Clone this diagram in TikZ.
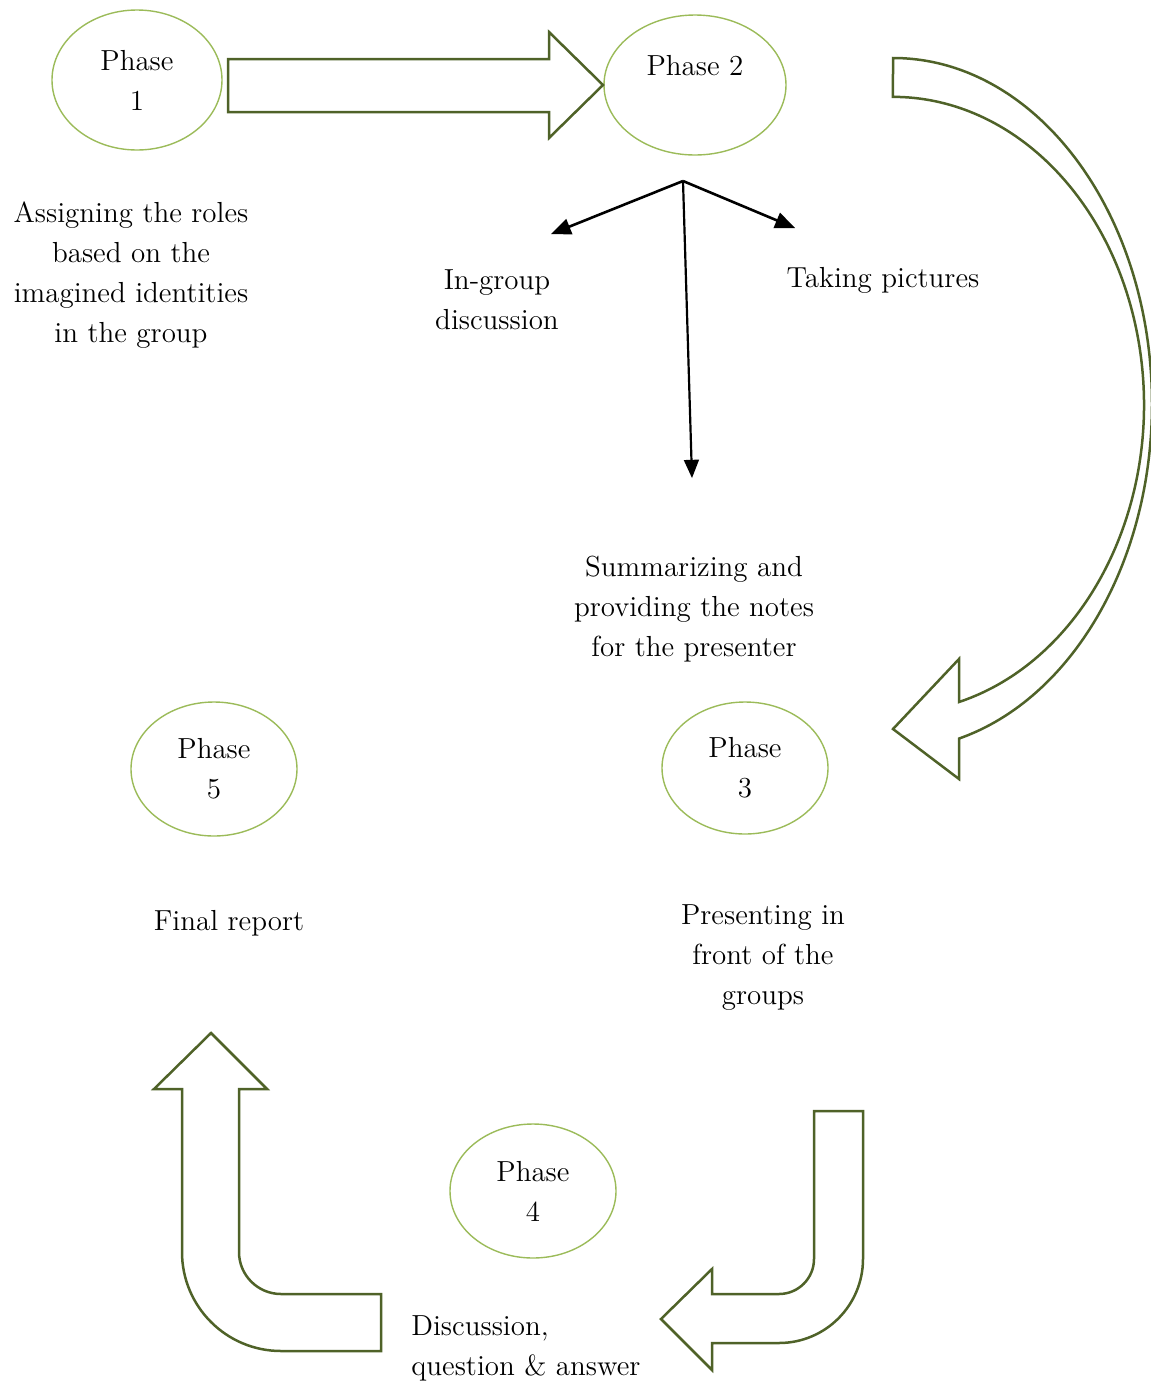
\documentclass[tikz,border=0pt]{standalone}
\usepackage{tikz}
\usepackage{color}
\usetikzlibrary{shapes.geometric, arrows}
\definecolor{phasegreen}{HTML}{9BBB59}
\definecolor{arrowolive}{HTML}{4F6228}
\tikzstyle{phase} = [ellipse, draw=phasegreen, line width=0.7pt, align=center, inner sep=0pt]
\tikzstyle{note} = [align=center, inner sep=0pt]
\tikzstyle{block} = [draw=arrowolive, line width=1.25pt, line join=miter, fill=white]
\tikzstyle{arrow} = [line width=1.3pt, -triangle 45]

\begin{document}
\begin{tikzpicture}[x=0.5pt, y=-0.5pt, font=\fontsize{14.5}{20}\selectfont]
          \useasboundingbox (0,0) rectangle (1151,1383);
          % phases
          \node (p1) [phase, minimum width=85pt, minimum height=70pt] at (137,80) {Phase\\1};
          \node (p2) [phase, minimum width=91pt, minimum height=70pt] at (695,85) {Phase 2\\\mbox{}};
          \node (p3) [phase, minimum width=83pt, minimum height=66pt] at (745,768) {Phase\\3};
          \node (p5) [phase, minimum width=83pt, minimum height=67pt] at (214,769) {Phase\\5};
          \node (p4) [phase, minimum width=83pt, minimum height=67pt] at (533,1191) {Phase\\4};
          % texts
          \node (roles) [note] at (131,275) {Assigning the roles\\based on the\\imagined identities\\in the group};
          \node (ingroup) [note] at (497,300) {In-group\\discussion};
          \node (pictures) [note] at (883,280) {Taking pictures};
          \node (summ) [note] at (694,609) {Summarizing and\\providing the notes\\for the presenter};
          \node (final) [note] at (229,923) {Final report};
          \node (present) [note] at (763,958) {Presenting in\\front of the\\groups};
          \node (discuss) [note, align=left, anchor=west] at (411,1348) {Discussion,\\question \& answer};
          % black arrows
          \coordinate (fork) at (683,181);
          \coordinate (toin) at (551,234);
          \coordinate (topic) at (795,228);
          \coordinate (tosum) at (692,478);
          \draw [arrow] (fork) -- (toin);
          \draw [arrow] (fork) -- (topic);
          \draw [arrow, line width=1.1pt] (fork) -- (tosum);
          % block arrows
          \draw [block] (228,59) -- (549,59) -- (549,32) -- (603,85) -- (549,138)
                -- (549,112) -- (228,112) -- cycle;
          \draw [block] (893,58) arc [start angle=-90, end angle=75.2, x radius=259, y radius=346]
                -- (959,779) -- (893,729) -- (959,659) -- (959,702)
                arc [start angle=74.75, end angle=-90, x radius=251, y radius=308] -- cycle;
          \draw [block] (814,1111) -- (863,1111) -- (863,1259)
                arc [start angle=0, end angle=90, radius=84]
                -- (712,1343) -- (712,1370) -- (661,1319) -- (712,1269) -- (712,1294) -- (779,1294)
                arc [start angle=90, end angle=0, radius=35] -- cycle;
          \draw [block] (381,1294) -- (281,1294)
                arc [start angle=90, end angle=180, radius=42]
                -- (239,1089) -- (267,1089) -- (211,1033) -- (154,1089) -- (182,1089) -- (182,1252)
                arc [start angle=180, end angle=90, radius=99]
                -- (381,1351) -- cycle;
        \end{tikzpicture}
\end{document}
